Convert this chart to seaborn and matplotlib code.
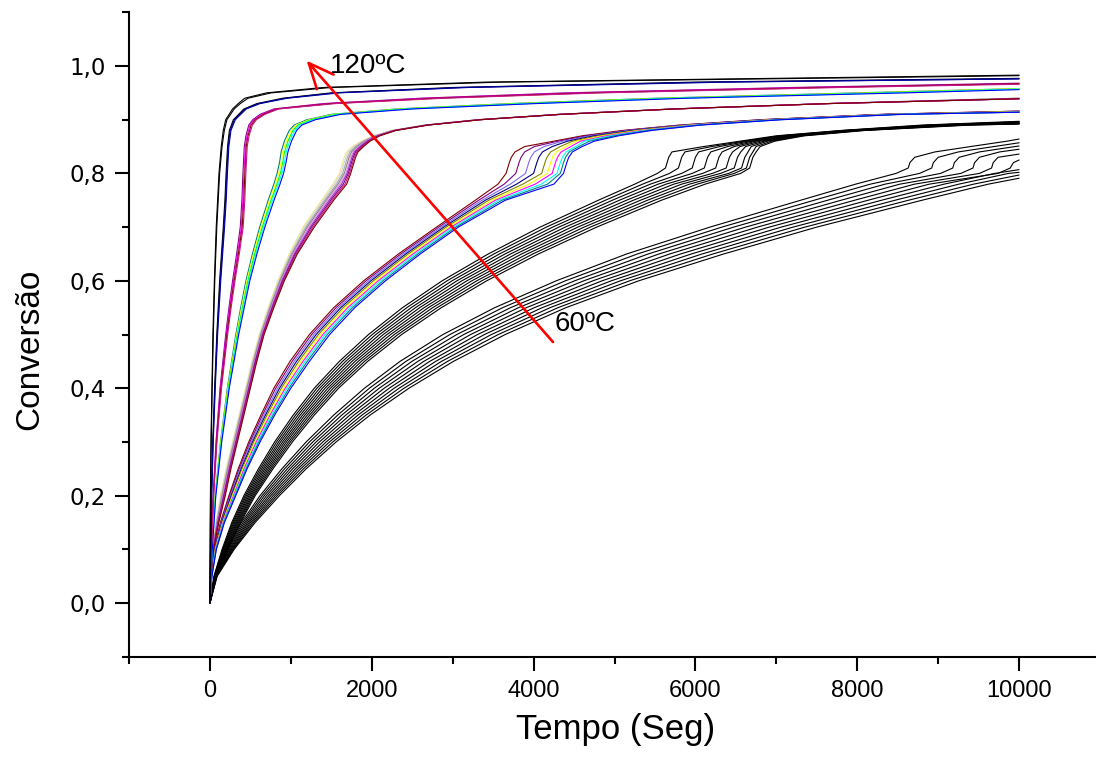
import matplotlib
matplotlib.use("Agg")
import matplotlib.pyplot as plt
from matplotlib import font_manager
from matplotlib.ticker import FixedLocator, MultipleLocator
import pandas as pd
import seaborn as sns

# ---------------------------------------------------------------------------
# Conversion curves.  Each family shares a list of conversion levels; every
# curve lists the time (s) at which it reaches those levels, and its final
# conversion at t = 10000 s.
# ---------------------------------------------------------------------------
t_final = 10000

levels_a = [0, 0.1, 0.2, 0.3, 0.4, 0.5, 0.6, 0.7, 0.8, 0.85, 0.88, 0.9, 0.92, 0.93, 0.94, 0.95, 0.96, 0.97, 0.98]
times_a = [
    [0, 2, 6, 13, 25, 37, 55, 78, 112, 140, 165, 195, 280, 350, 430, 700, 1400, 3400, 8500],
    [0, 3, 8, 16, 28, 42, 60, 85, 120, 150, 178, 210, 300, 375, 470, 760, 1500, 3600, 9000],
]
end_a = [0.983, 0.982]
colors_a = ["#000000", "#000000"]

levels_b = [0, 0.1, 0.2, 0.3, 0.4, 0.5, 0.6, 0.7, 0.75, 0.8, 0.85, 0.88, 0.9, 0.92, 0.93, 0.94, 0.95, 0.96, 0.97]
times_b = [
    [0, 8, 18, 35, 58, 85, 120, 165, 185, 200, 218, 240, 290, 420, 580, 900, 1500, 3000, 6000],
    [0, 9, 20, 38, 62, 90, 127, 173, 193, 208, 226, 250, 302, 435, 600, 930, 1550, 3100, 6200],
    [0, 10, 22, 41, 66, 95, 134, 181, 201, 216, 234, 260, 314, 450, 620, 960, 1600, 3200, 6400],
]
end_b = [0.977, 0.976, 0.976]
colors_b = ["#000000", "#000080", "#0000A0"]

levels_c = [0, 0.1, 0.2, 0.3, 0.4, 0.5, 0.55, 0.6, 0.65, 0.7, 0.75, 0.8, 0.85, 0.87, 0.89, 0.9, 0.91, 0.92, 0.93, 0.94, 0.95, 0.96]
times_c = [
    [0, 15, 40, 75, 125, 195, 235, 280, 330, 375, 395, 408, 425, 445, 480, 530, 620, 790, 1400, 2600, 4400, 7200],
    [0, 16, 42, 79, 131, 203, 244, 290, 341, 387, 407, 420, 437, 458, 495, 545, 640, 810, 1450, 2700, 4550, 7400],
    [0, 17, 44, 83, 137, 211, 253, 300, 352, 399, 419, 432, 449, 471, 510, 560, 660, 830, 1500, 2800, 4700, 7600],
    [0, 18, 46, 87, 143, 219, 262, 310, 363, 411, 431, 444, 461, 484, 525, 575, 680, 850, 1550, 2900, 4850, 7800],
]
end_c = [0.968, 0.967, 0.967, 0.966]
colors_c = ["#800080", "#FF00FF", "#800000", "#C71585"]

levels_d = [0, 0.1, 0.2, 0.3, 0.4, 0.5, 0.55, 0.6, 0.65, 0.7, 0.75, 0.78, 0.8, 0.82, 0.84, 0.86, 0.88, 0.89, 0.9, 0.91, 0.92, 0.93, 0.94, 0.95]
times_d = [
    [0, 25, 65, 130, 215, 320, 380, 445, 525, 615, 720, 790, 830, 860, 880, 920, 980, 1040, 1200, 1500, 2300, 3700, 5500, 8000],
    [0, 26, 67, 134, 221, 329, 391, 457, 539, 631, 738, 809, 850, 880, 901, 942, 1003, 1064, 1226, 1530, 2350, 3780, 5600, 8150],
    [0, 27, 69, 138, 227, 338, 402, 469, 553, 647, 756, 828, 870, 900, 922, 964, 1026, 1088, 1252, 1560, 2400, 3860, 5700, 8300],
    [0, 28, 71, 142, 233, 347, 413, 481, 567, 663, 774, 847, 890, 920, 943, 986, 1049, 1112, 1278, 1590, 2450, 3940, 5800, 8450],
    [0, 29, 73, 146, 239, 356, 424, 493, 581, 679, 792, 866, 910, 940, 964, 1008, 1072, 1136, 1304, 1620, 2500, 4020, 5900, 8600],
]
end_d = [0.958, 0.958, 0.957, 0.957, 0.956]
colors_d = ["#008080", "#FFFF00", "#00FF00", "#00FFFF", "#0000FF"]

levels_e = [0, 0.05, 0.1, 0.15, 0.2, 0.25, 0.3, 0.35, 0.4, 0.45, 0.5, 0.55, 0.6, 0.65, 0.7, 0.75, 0.78,
            0.8, 0.81, 0.82, 0.83, 0.84, 0.85, 0.86, 0.87, 0.88, 0.89, 0.9, 0.91, 0.92, 0.93]
times_e = [
    [0, 8, 30, 75, 130, 200, 280, 360, 440, 520, 610, 720, 840, 980, 1150, 1380, 1520, 1600, 1620, 1640, 1660, 1690, 1760, 1870, 2020, 2250, 2650, 3300, 4300, 5700, 7600],
    [0, 9, 32, 79, 138, 208, 288, 368, 448, 528, 618, 729, 850, 993, 1168, 1399, 1541, 1620, 1640, 1660, 1680, 1710, 1780, 1885, 2030, 2256, 2655, 3306, 4306, 5706, 7606],
    [0, 9, 34, 84, 145, 215, 295, 375, 455, 535, 625, 738, 860, 1005, 1185, 1418, 1563, 1640, 1660, 1680, 1700, 1730, 1800, 1900, 2040, 2262, 2660, 3312, 4312, 5712, 7612],
    [0, 10, 36, 88, 153, 223, 303, 383, 463, 543, 633, 746, 870, 1018, 1203, 1436, 1584, 1660, 1680, 1700, 1720, 1750, 1820, 1915, 2050, 2268, 2665, 3318, 4318, 5718, 7618],
    [0, 10, 38, 93, 160, 230, 310, 390, 470, 550, 640, 755, 880, 1030, 1220, 1455, 1605, 1680, 1700, 1720, 1740, 1770, 1840, 1925, 2060, 2275, 2675, 3325, 4325, 5725, 7625],
    [0, 11, 39, 97, 168, 238, 318, 398, 478, 558, 648, 764, 890, 1043, 1238, 1474, 1626, 1695, 1715, 1735, 1755, 1785, 1855, 1940, 2070, 2281, 2680, 3331, 4331, 5731, 7631],
    [0, 11, 41, 101, 175, 245, 325, 405, 485, 565, 655, 773, 900, 1055, 1255, 1493, 1648, 1710, 1730, 1750, 1770, 1800, 1870, 1955, 2080, 2287, 2685, 3337, 4337, 5737, 7637],
    [0, 12, 43, 106, 183, 253, 333, 413, 493, 573, 663, 781, 910, 1068, 1273, 1511, 1669, 1725, 1745, 1765, 1785, 1815, 1885, 1965, 2090, 2293, 2690, 3343, 4343, 5743, 7643],
    [0, 12, 45, 110, 190, 260, 340, 420, 500, 580, 670, 790, 920, 1080, 1290, 1530, 1690, 1740, 1760, 1780, 1800, 1830, 1900, 1980, 2100, 2300, 2700, 3350, 4350, 5750, 7650],
]
end_e = [0.940, 0.940, 0.940, 0.940, 0.939, 0.939, 0.939, 0.939, 0.939]
colors_e = ["#F0E68C", "#D3D3D3", "#A9A9A9", "#808080", "#EE82EE", "#9932CC", "#800080", "#C71585", "#800000"]

levels_f = [0, 0.05, 0.1, 0.15, 0.2, 0.25, 0.3, 0.35, 0.4, 0.45, 0.5, 0.55, 0.6, 0.65, 0.7, 0.75, 0.78,
            0.8, 0.81, 0.82, 0.83, 0.84, 0.85, 0.86, 0.87, 0.88, 0.89, 0.9, 0.91]
times_f = [
    [0, 15, 50, 130, 235, 350, 480, 630, 790, 990, 1230, 1530, 1900, 2330, 2800, 3280, 3560, 3660, 3680, 3700, 3725, 3770, 3890, 4250, 4600, 5100, 5800, 6800, 8300],
    [0, 16, 53, 136, 244, 362, 496, 649, 813, 1017, 1258, 1559, 1930, 2360, 2830, 3321, 3637, 3780, 3800, 3820, 3845, 3890, 4010, 4300, 4650, 5140, 5830, 6830, 8330],
    [0, 17, 57, 141, 254, 374, 511, 668, 837, 1043, 1286, 1588, 1960, 2390, 2860, 3362, 3713, 3900, 3920, 3940, 3965, 4010, 4130, 4360, 4700, 5180, 5860, 6860, 8360],
    [0, 18, 60, 147, 263, 387, 527, 687, 860, 1070, 1313, 1617, 1990, 2420, 2890, 3403, 3790, 4000, 4020, 4040, 4065, 4110, 4230, 4420, 4750, 5220, 5890, 6890, 8390],
    [0, 19, 63, 152, 273, 399, 542, 706, 883, 1097, 1341, 1646, 2020, 2450, 2920, 3444, 3867, 4100, 4120, 4140, 4165, 4210, 4330, 4480, 4800, 5260, 5920, 6920, 8420],
    [0, 21, 67, 158, 282, 411, 558, 724, 907, 1123, 1369, 1674, 2050, 2480, 2950, 3486, 3943, 4170, 4190, 4210, 4235, 4280, 4400, 4530, 4850, 5300, 5950, 6950, 8450],
    [0, 22, 70, 163, 292, 423, 573, 743, 930, 1150, 1397, 1703, 2080, 2510, 2980, 3527, 4020, 4230, 4250, 4270, 4295, 4340, 4460, 4580, 4900, 5340, 5980, 6980, 8480],
    [0, 23, 73, 169, 301, 436, 589, 762, 953, 1177, 1424, 1732, 2110, 2540, 3010, 3568, 4097, 4290, 4310, 4330, 4355, 4400, 4520, 4630, 4950, 5380, 6010, 7010, 8510],
    [0, 24, 77, 174, 311, 448, 604, 781, 977, 1203, 1452, 1761, 2140, 2570, 3040, 3609, 4173, 4330, 4350, 4370, 4395, 4440, 4560, 4690, 5000, 5420, 6040, 7040, 8540],
    [0, 25, 80, 180, 320, 460, 620, 800, 1000, 1230, 1480, 1790, 2170, 2600, 3070, 3650, 4250, 4370, 4390, 4410, 4435, 4480, 4600, 4750, 5050, 5460, 6070, 7070, 8570],
]
end_f = [0.916, 0.916, 0.915, 0.915, 0.915, 0.915, 0.914, 0.914, 0.914, 0.914]
colors_f = ["#800000", "#800080", "#7B68EE", "#000080", "#808000", "#FFFF00", "#FF00FF", "#00FFFF", "#008080", "#0000FF"]

levels_g = [0, 0.05, 0.1, 0.15, 0.2, 0.25, 0.3, 0.35, 0.4, 0.45, 0.5, 0.55, 0.6, 0.65, 0.7, 0.75, 0.78,
            0.8, 0.81, 0.82, 0.83, 0.84, 0.85, 0.86, 0.87, 0.88, 0.89]
times_g = [
    [0, 50, 150, 270, 420, 600, 800, 1030, 1290, 1600, 1960, 2380, 2870, 3440, 4080, 4800, 5250, 5530, 5630, 5650, 5670, 5710, 6100, 6550, 7000, 7800, 8800],
    [0, 53, 158, 282, 436, 620, 824, 1059, 1323, 1639, 2006, 2433, 2931, 3509, 4158, 4887, 5347, 5680, 5790, 5810, 5830, 5870, 6200, 6600, 7040, 7830, 8870],
    [0, 56, 166, 294, 451, 640, 849, 1088, 1357, 1678, 2051, 2487, 2992, 3578, 4236, 4973, 5443, 5830, 5960, 5980, 6000, 6040, 6300, 6650, 7080, 7870, 8930],
    [0, 58, 173, 307, 467, 660, 873, 1117, 1390, 1717, 2097, 2540, 3053, 3647, 4313, 5060, 5540, 5960, 6110, 6130, 6150, 6190, 6400, 6700, 7120, 7900, 9000],
    [0, 61, 181, 319, 482, 680, 898, 1146, 1423, 1756, 2142, 2593, 3114, 3716, 4391, 5147, 5637, 6090, 6250, 6270, 6290, 6330, 6480, 6750, 7160, 7930, 9070],
    [0, 64, 189, 331, 498, 700, 922, 1174, 1457, 1794, 2188, 2647, 3176, 3784, 4469, 5233, 5733, 6210, 6380, 6400, 6420, 6460, 6550, 6800, 7200, 7970, 9130],
    [0, 67, 197, 343, 513, 720, 946, 1203, 1490, 1833, 2233, 2700, 3237, 3853, 4547, 5320, 5830, 6310, 6480, 6500, 6520, 6560, 6620, 6850, 7240, 8000, 9200],
    [0, 69, 205, 355, 529, 740, 971, 1232, 1523, 1872, 2279, 2753, 3298, 3922, 4624, 5407, 5927, 6410, 6570, 6590, 6610, 6650, 6690, 6890, 7270, 8030, 9270],
    [0, 72, 212, 368, 544, 760, 995, 1261, 1557, 1911, 2324, 2807, 3359, 3991, 4702, 5493, 6023, 6480, 6630, 6650, 6670, 6710, 6750, 6940, 7310, 8070, 9330],
    [0, 75, 220, 380, 560, 780, 1020, 1290, 1590, 1950, 2370, 2860, 3420, 4060, 4780, 5580, 6120, 6560, 6670, 6690, 6710, 6750, 6800, 6980, 7350, 8100, 9400],
]
end_g = [0.897, 0.896, 0.896, 0.895, 0.894, 0.894, 0.893, 0.893, 0.892, 0.892]
colors_g = ["#000000"] * 10

levels_h = [0, 0.05, 0.1, 0.15, 0.2, 0.25, 0.3, 0.35, 0.4, 0.45, 0.5, 0.55, 0.6, 0.65, 0.7, 0.75, 0.78,
            0.8, 0.81, 0.82, 0.83, 0.84, 0.85, 0.86]
times_h = [
    [0, 60, 200, 390, 620, 890, 1190, 1530, 1910, 2350, 2880, 3520, 4280, 5150, 6180, 7300, 7980, 8480, 8630, 8650, 8710, 8960, 9400, 9850],
    [0, 63, 211, 409, 647, 923, 1231, 1580, 1971, 2423, 2966, 3618, 4393, 5283, 6327, 7467, 8162, 8770, 8920, 8940, 9000, 9250, 9690],
    [0, 67, 222, 428, 673, 957, 1272, 1630, 2032, 2497, 3051, 3716, 4507, 5417, 6473, 7633, 8344, 9030, 9180, 9200, 9260, 9510, 9950],
    [0, 70, 233, 447, 700, 990, 1313, 1680, 2093, 2570, 3137, 3813, 4620, 5550, 6620, 7800, 8527, 9280, 9430, 9450, 9510, 9760],
    [0, 73, 244, 466, 727, 1023, 1354, 1730, 2154, 2643, 3222, 3911, 4733, 5683, 6767, 7967, 8709, 9510, 9660, 9680, 9740],
    [0, 77, 256, 484, 753, 1057, 1396, 1780, 2216, 2717, 3308, 4009, 4847, 5817, 6913, 8133, 8891, 9740, 9890, 9930],
    [0, 80, 267, 503, 780, 1090, 1437, 1830, 2277, 2790, 3393, 4107, 4960, 5950, 7060, 8300, 9073, 9700],
    [0, 83, 278, 522, 807, 1123, 1478, 1880, 2338, 2863, 3479, 4204, 5073, 6083, 7207, 8467, 9256, 9870],
    [0, 87, 289, 541, 833, 1157, 1519, 1930, 2399, 2937, 3564, 4302, 5187, 6217, 7353, 8633, 9438],
    [0, 90, 300, 560, 860, 1190, 1560, 1980, 2460, 3010, 3650, 4400, 5300, 6350, 7500, 8800, 9620],
]
end_h = [0.864, 0.857, 0.851, 0.845, 0.836, 0.825, 0.807, 0.802, 0.797, 0.791]
colors_h = ["#000000"] * 10

# axis ticks and annotations
x_major = [0, 2000, 4000, 6000, 8000, 10000]
x_labels = ["0", "2000", "4000", "6000", "8000", "10000"]
y_major = [0.0, 0.2, 0.4, 0.6, 0.8, 1.0]
y_labels = ["0,0", "0,2", "0,4", "0,6", "0,8", "1,0"]
arrow_start = (4240, 0.486)
arrow_end = (1195, 1.010)
label_hot = ("120ºC", 1480, 1.0)
label_cold = ("60ºC", 4265, 0.52)

# ---------------------------------------------------------------------------
families = [
    ("h", levels_h, times_h, end_h, colors_h),
    ("g", levels_g, times_g, end_g, colors_g),
    ("f", levels_f, times_f, end_f, colors_f),
    ("e", levels_e, times_e, end_e, colors_e),
    ("d", levels_d, times_d, end_d, colors_d),
    ("c", levels_c, times_c, end_c, colors_c),
    ("b", levels_b, times_b, end_b, colors_b),
    ("a", levels_a, times_a, end_a, colors_a),
]

rows = []
palette = {}
order = []
for fam, levels, times, ends, colors in families:
    for i, (tt, end, col) in enumerate(zip(times, ends, colors)):
        cid = f"{fam}{i}"
        order.append(cid)
        palette[cid] = col
        xs = list(tt) + [t_final]
        ys = list(levels[:len(tt)]) + [end]
        for x, y in zip(xs, ys):
            rows.append((cid, x, y))
df = pd.DataFrame(rows, columns=["curva", "tempo", "conversao"])

sns.set_theme(style="ticks")
names = {f.name for f in font_manager.fontManager.ttflist}
base_font = "Liberation Sans" if "Liberation Sans" in names else "DejaVu Sans"
plt.rcParams["font.family"] = [base_font, "DejaVu Sans"]

fig = plt.figure(figsize=(10.96, 7.58), dpi=100)
ax = fig.add_axes([129 / 1096, 1 - 656.7 / 758, 971 / 1096, 644.4 / 758])

sns.lineplot(data=df, x="tempo", y="conversao", hue="curva", hue_order=order,
             palette=palette, estimator=None, sort=False, legend=False,
             linewidth=0.8, ax=ax)

ax.set_xlim(-1000, 11000)
ax.set_ylim(-0.1, 1.1)
ax.xaxis.set_major_locator(FixedLocator(x_major))
ax.set_xticklabels(x_labels)
ax.xaxis.set_minor_locator(MultipleLocator(1000))
ax.yaxis.set_major_locator(FixedLocator(y_major))
ax.set_yticklabels(y_labels)
ax.yaxis.set_minor_locator(MultipleLocator(0.1))

for side in ("top", "right"):
    ax.spines[side].set_visible(False)
for side in ("left", "bottom"):
    ax.spines[side].set_linewidth(1.5)
    ax.spines[side].set_color("black")

ax.tick_params(which="major", direction="out", length=10, width=1.5, color="black",
               labelsize=17, labelcolor="black", pad=7)
ax.tick_params(which="minor", direction="out", length=5, width=1.5, color="black")
for lab in ax.get_yticklabels():
    lab.set_family(["DejaVu Sans"])
    lab.set_fontsize(16.5)

ax.set_xlabel("Tempo (Seg)", fontsize=25, color="black")
ax.set_ylabel("Conversão", fontsize=24, color="black")
ax.xaxis.set_label_coords(0.5015, -0.087)
ax.yaxis.set_label_coords(-0.086, 0.4775)

ax.annotate("", xy=arrow_end, xytext=arrow_start,
            arrowprops=dict(arrowstyle="->,head_length=0.9,head_width=0.4",
                            color="#FF0000", lw=1.9, shrinkA=0, shrinkB=0,
                            mutation_scale=20))
ax.text(label_hot[1], label_hot[2], label_hot[0], fontsize=20, ha="left", va="center", color="black")
ax.text(label_cold[1], label_cold[2], label_cold[0], fontsize=20, ha="left", va="center", color="black")

fig.savefig("out.png", dpi=100, facecolor="white")
